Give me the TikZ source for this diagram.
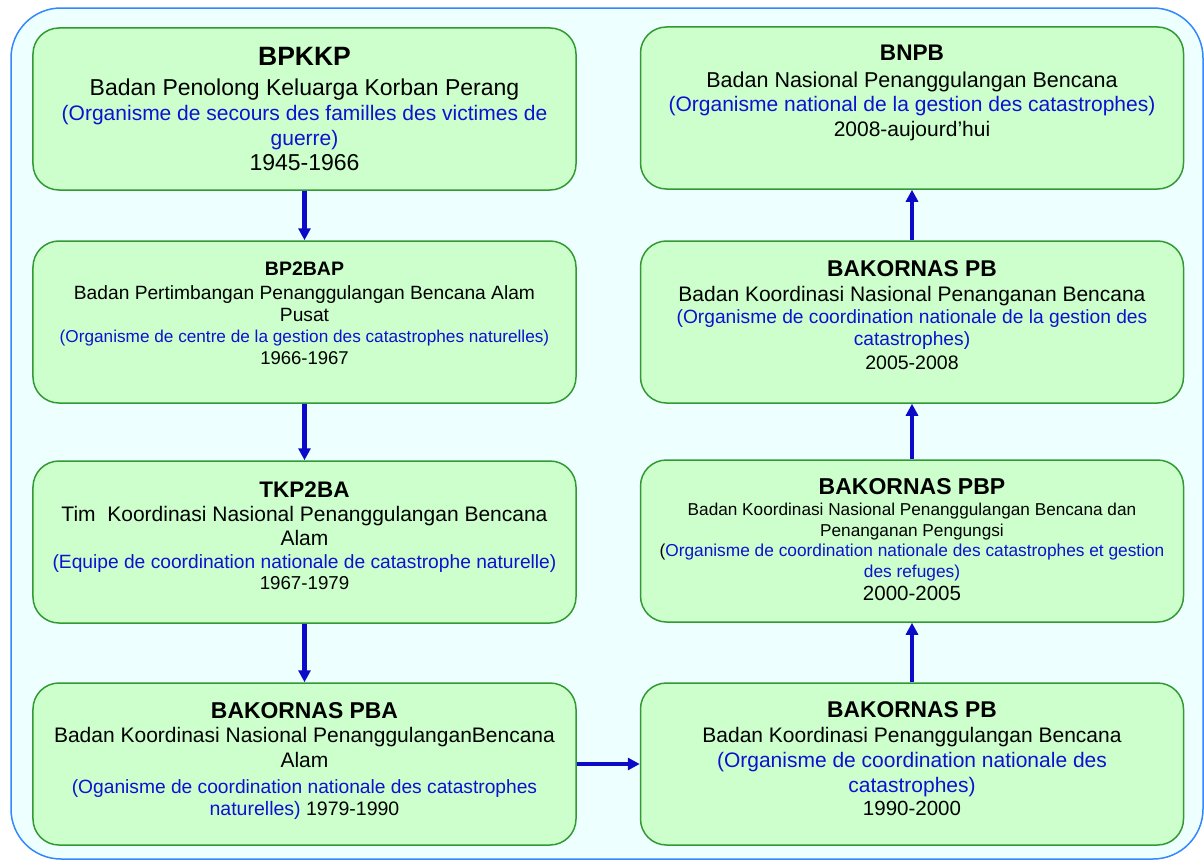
\documentclass[tikz,border=0pt]{standalone}
\usepackage{fontspec}
\setmainfont{Liberation Sans}
\usetikzlibrary{arrows.meta}
\definecolor{boxfill}{HTML}{CCFFCC}
\definecolor{boxline}{HTML}{339933}
\definecolor{outerfill}{HTML}{EEFFFF}
\definecolor{outerline}{HTML}{3388FF}
\definecolor{arrowblue}{HTML}{0A0AC8}
\definecolor{txtblue}{HTML}{1010D0}
\newcommand\fsz[1]{\fontsize{#1bp}{#1bp}\selectfont}
\tikzset{
  orgbox/.style={draw=boxline, line width=1.5bp, fill=boxfill, rounded corners=26bp,
    minimum width=543bp, minimum height=162bp, inner sep=0pt},
  ln/.style={anchor=base, inner sep=0pt, text=black},
  bl/.style={anchor=base, inner sep=0pt, text=txtblue},
  flow/.style={draw=arrowblue, line width=4.5bp, -{Triangle[length=12bp,width=12bp]}},
}
\begin{document}
\begin{tikzpicture}[x=1bp,y=-1bp]
\useasboundingbox (0,0) rectangle (1204,861);
\fill[white] (0,0) rectangle (1204,861);
\draw[draw=outerline, line width=1.5bp, fill=outerfill, rounded corners=50bp] (11,8) rectangle (1203,859);

% boxes
\node[orgbox] (b1) at (304.5,109) {};
\node[orgbox] (b2) at (304.5,322) {};
\node[orgbox] (b3) at (304.5,542) {};
\node[orgbox] (b4) at (304.5,764) {};
\node[orgbox] (r1) at (912,108) {};
\node[orgbox] (r2) at (912,322) {};
\node[orgbox] (r3) at (912,541) {};
\node[orgbox] (r4) at (912,764) {};

% box 1
\node[ln, font=\fsz{26.5}\bfseries] (b1t) at (304.5,65) {BPKKP};
\node[ln, font=\fsz{23}] (b1a) at (304.5,95) {Badan Penolong Keluarga Korban Perang};
\node[bl, font=\fsz{21}] (b1b) at (304.5,120) {(Organisme de secours des familles des victimes de};
\node[bl, font=\fsz{21}] (b1c) at (304.5,145) {guerre)};
\node[ln, font=\fsz{23}] (b1d) at (304.5,170) {1945-1966};

% box 2
\node[ln, font=\fsz{19.5}\bfseries] (b2t) at (304.5,275) {BP2BAP};
\node[ln, font=\fsz{19.2}] (b2a) at (304.5,299) {Badan Pertimbangan Penanggulangan Bencana Alam};
\node[ln, font=\fsz{19.2}] (b2b) at (304.5,321) {Pusat};
\node[bl, font=\fsz{17.2}] (b2c) at (304.5,342) {(Organisme de centre de la gestion des catastrophes naturelles)};
\node[ln, font=\fsz{18.5}] (b2d) at (304.5,364) {1966-1967};

% box 3
\node[ln, font=\fsz{22.5}\bfseries] (b3t) at (304.5,497) {TKP2BA};
\node[ln, font=\fsz{21}] (b3a) at (304.5,521) {Tim\ \ Koordinasi Nasional Penanggulangan Bencana};
\node[ln, font=\fsz{21}] (b3b) at (304.5,545) {Alam};
\node[bl, font=\fsz{19.2}] (b3c) at (304.5,568) {(Equipe de coordination nationale de catastrophe naturelle)};
\node[ln, font=\fsz{18.7}] (b3d) at (304.5,589) {1967-1979};

% box 4
\node[ln, font=\fsz{22.9}\bfseries] (b4t) at (304.5,718) {BAKORNAS PBA};
\node[ln, font=\fsz{21}] (b4a) at (304.5,742) {Badan Koordinasi Nasional PenanggulanganBencana};
\node[ln, font=\fsz{21}] (b4b) at (304.5,767) {Alam};
\node[bl, font=\fsz{19.2}] (b4c) at (304.5,793) {(Oganisme de coordination nationale des catastrophes};
\node[ln, font=\fsz{19.5}] (b4d) at (304.5,815) {\textcolor{txtblue}{naturelles)} 1979-1990};

% right 1
\node[ln, font=\fsz{22.6}\bfseries] (r1t) at (912,60) {BNPB};
\node[ln, font=\fsz{21.5}] (r1a) at (912,87.5) {Badan Nasional Penanggulangan Bencana};
\node[bl, font=\fsz{21}] (r1b) at (912,111) {(Organisme national de la gestion des catastrophes)};
\node[ln, font=\fsz{21}] (r1c) at (912,136) {2008-aujourd’hui};

% right 2
\node[ln, font=\fsz{22.8}\bfseries] (r2t) at (912,276) {BAKORNAS PB};
\node[ln, font=\fsz{21}] (r2a) at (912,301) {Badan Koordinasi Nasional Penanganan Bencana};
\node[bl, font=\fsz{19.2}] (r2b) at (912,323) {(Organisme de coordination nationale de la gestion des};
\node[bl, font=\fsz{19.2}] (r2c) at (912,345) {catastrophes)};
\node[ln, font=\fsz{19.5}] (r2d) at (912,369) {2005-2008};

% right 3
\node[ln, font=\fsz{23}\bfseries] (r3t) at (912,494) {BAKORNAS PBP};
\node[ln, font=\fsz{17.2}] (r3a) at (912,515) {Badan Koordinasi Nasional Penanggulangan Bencana dan};
\node[ln, font=\fsz{17.2}] (r3b) at (912,536) {Penanganan Pengungsi};
\node[ln, font=\fsz{17.3}] (r3c) at (912,556) {(\textcolor{txtblue}{Organisme de coordination nationale des catastrophes et gestion}};
\node[bl, font=\fsz{17.3}] (r3d) at (912,577) {des refuges)};
\node[ln, font=\fsz{20.5}] (r3e) at (912,600) {2000-2005};

% right 4
\node[ln, font=\fsz{22.8}\bfseries] (r4t) at (912,717) {BAKORNAS PB};
\node[ln, font=\fsz{21}] (r4a) at (912,742) {Badan Koordinasi Penanggulangan Bencana};
\node[bl, font=\fsz{21}] (r4b) at (912,767) {(Organisme de coordination nationale des};
\node[bl, font=\fsz{21}] (r4c) at (912,792) {catastrophes)};
\node[ln, font=\fsz{20.5}] (r4d) at (912,815) {1990-2000};

% connectors
\draw[flow] (b1.south) -- (b2.north);
\draw[flow] (b2.south) -- (b3.north);
\draw[flow] (b3.south) -- (b4.north);
\draw[flow] (b4.east) -- (r4.west);
\draw[flow] (r4.north) -- (r3.south);
\draw[flow] (r3.north) -- (r2.south);
\draw[flow] (r2.north) -- (r1.south);
\end{tikzpicture}
\end{document}
